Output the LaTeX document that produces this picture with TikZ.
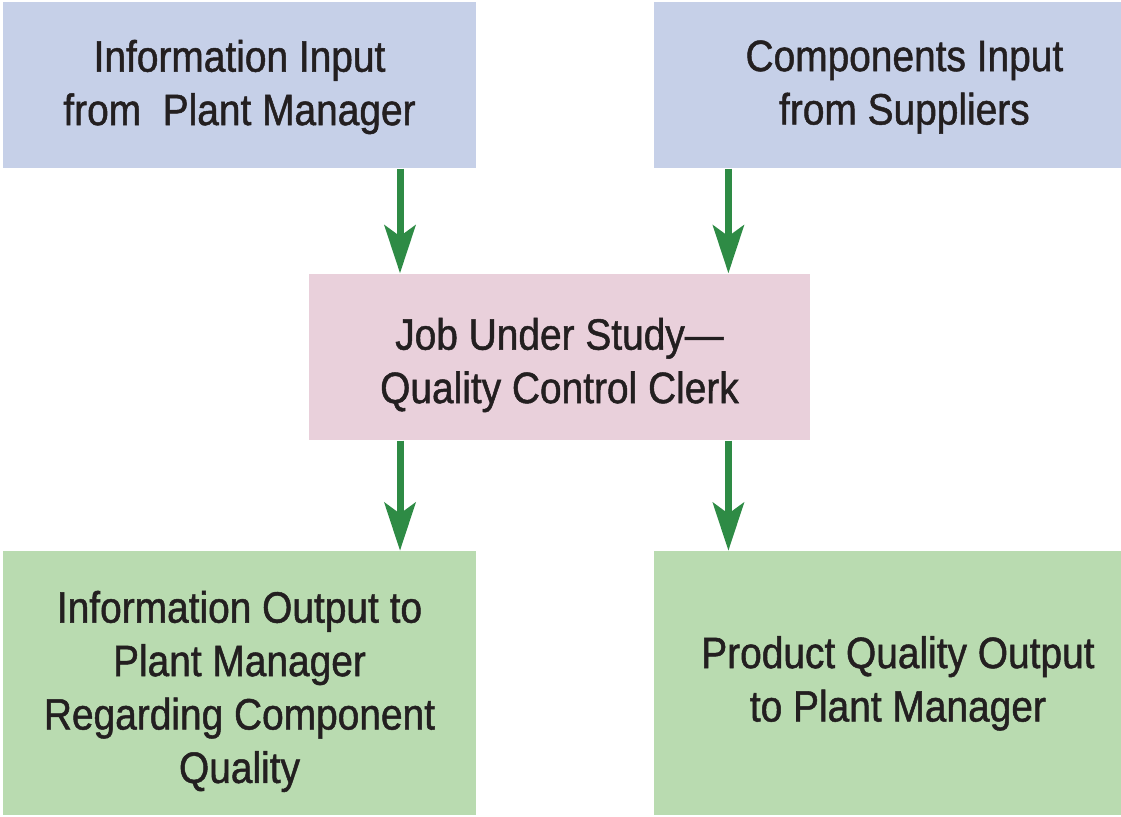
\documentclass[tikz,border=0pt]{standalone}
\usepackage{fontspec}
\setmainfont{Liberation Sans}[FakeStretch=0.885, FakeBold=1.1]
\usepackage{tikz}
\usetikzlibrary{arrows.meta, positioning, calc}

\definecolor{inblue}{HTML}{C6D0E8}
\definecolor{jobpink}{HTML}{E9D0DB}
\definecolor{outgreen}{HTML}{B9DBB0}
\definecolor{arrowgreen}{HTML}{2E8B45}
\definecolor{inkdark}{HTML}{231F20}

% lower a block of lines without changing its size
\newcommand{\lowered}[3]{\raisebox{-#1}[\height][\depth]{\parbox{#2}{\centering #3}}}

\begin{document}
\begin{tikzpicture}[
    box/.style={rectangle, inner sep=0pt, align=center, text=inkdark,
        font=\fontsize{12.5}{15.2}\selectfont, minimum width=4.73cm, minimum height=1.66cm},
    inbox/.style={box, fill=inblue},
    jobbox/.style={box, fill=jobpink, minimum width=5.01cm},
    outbox/.style={box, fill=outgreen, minimum height=2.64cm},
    flow/.style={-{Stealth[length=4.8mm, width=3.1mm, inset=1.1mm]}, draw=arrowgreen,
        line width=0.07cm},
    node distance=1.06cm and 1.77cm
]
    \useasboundingbox (0,0) rectangle (11.21,-8.16);

    % Nodes
    \node[inbox] (info) at (2.395,-0.85)
        {\lowered{0.02cm}{4.73cm}{Information Input\\from \ Plant Manager}};
    \node[inbox, right=of info] (comp)
        {\lowered{0.02cm}{4.73cm}{\hspace*{0.27cm}Components Input\\\hspace*{0.27cm}from Suppliers}};
    \node[jobbox] (job) at (5.595,-3.57)
        {\lowered{0.08cm}{5.01cm}{Job Under Study---\\Quality Control Clerk}};
    \node[outbox, below=3.82cm of info] (infoout)
        {\lowered{0.08cm}{4.73cm}{Information Output to\\Plant Manager\\Regarding Component\\Quality}};
    \node[outbox, below=3.82cm of comp] (prodout)
        {\hspace*{0.14cm}Product Quality Output\\\hspace*{0.14cm}to Plant Manager};

    % Lines
    \draw[flow] ([xshift=1.605cm]info.south) -- ([xshift=1.605cm]info.south |- job.north);
    \draw[flow] ([xshift=-1.625cm]comp.south) -- ([xshift=-1.625cm]comp.south |- job.north);
    \draw[flow] ([xshift=1.605cm]info.south |- job.south) -- ([xshift=1.605cm]infoout.north);
    \draw[flow] ([xshift=-1.625cm]comp.south |- job.south) -- ([xshift=-1.625cm]prodout.north);
\end{tikzpicture}
\end{document}
